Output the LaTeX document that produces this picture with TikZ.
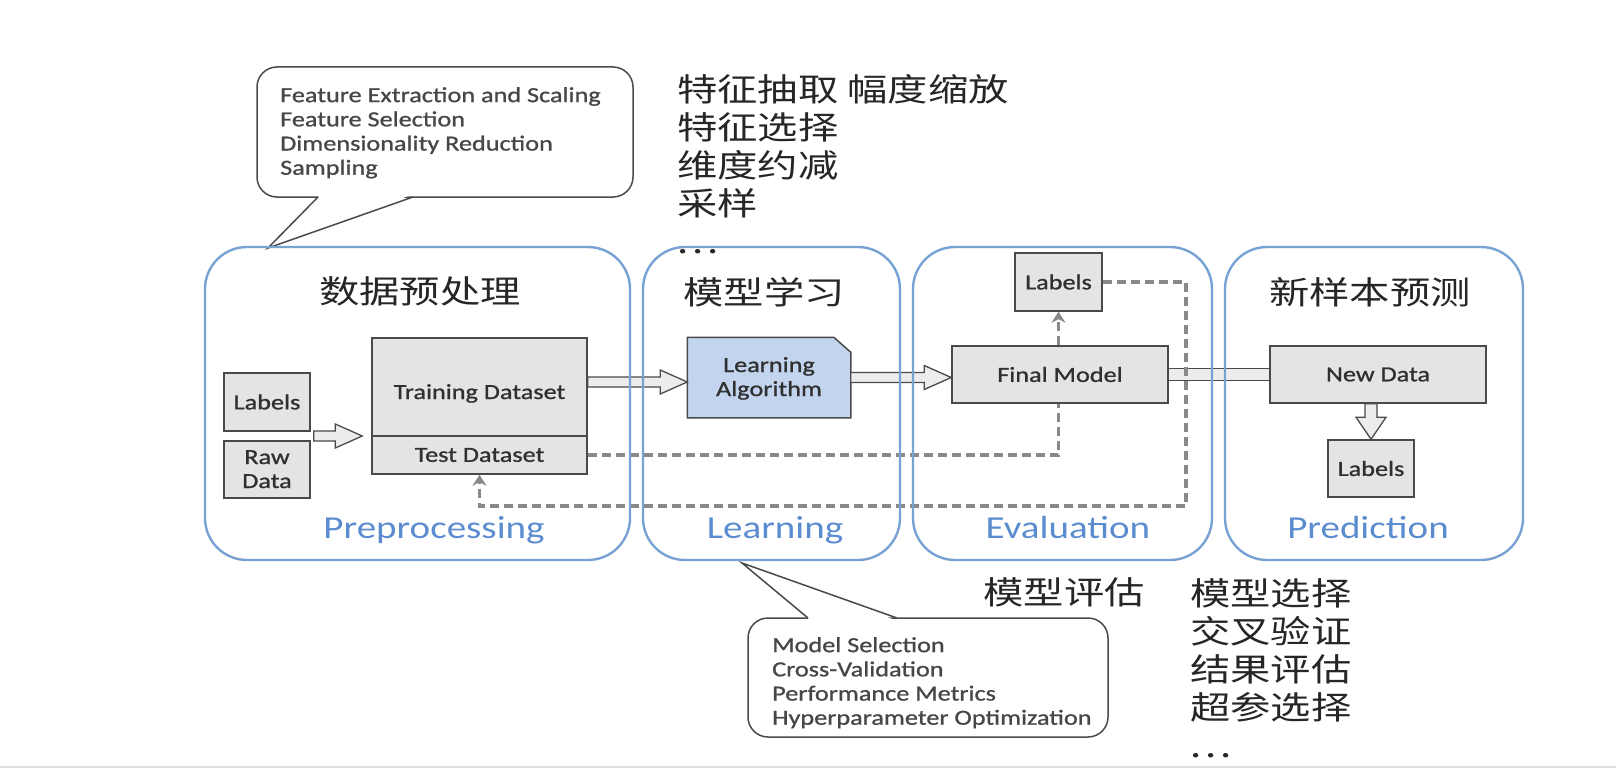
\documentclass[tikz,border=0pt]{standalone}
\usepackage{fontspec}
\setmainfont{Carlito}[FakeStretch=1.22]
\newfontfamily\boxf{Carlito}[FakeStretch=1.22, FakeBold=1.0]
\newfontfamily\cjkf{Noto Sans CJK SC}[FakeStretch=1.26]
\usetikzlibrary{calc,arrows.meta,backgrounds}
\definecolor{phaseblue}{HTML}{78A2D4}
\definecolor{labelblue}{HTML}{5B8CD0}
\definecolor{boxgray}{HTML}{E4E4E4}
\definecolor{edgegray}{HTML}{4A4A4A}
\definecolor{dashgray}{HTML}{898989}
\definecolor{algoblue}{HTML}{C3D5EE}
\definecolor{txtgray}{HTML}{303030}
\tikzset{
 gbox/.style={draw=edgegray, fill=boxgray, line width=1.5pt, inner sep=0pt, text=txtgray, font=\boxf\fontsize{21.5}{24}\selectfont, align=center},
 blk/.style={draw=edgegray, fill=boxgray!70!white, line width=1.3pt, line join=miter},
 dsh/.style={draw=dashgray, line width=3.1pt, dash pattern=on 9pt off 5pt},
 dtip/.style={-{Stealth[length=11pt,width=14pt,fill=dashgray]}},
 phase/.style={draw=phaseblue, line width=2.4pt, rounded corners=42pt, inner sep=0pt},
 ttl/.style={font=\cjkf\fontsize{32}{38}\selectfont, text=black!85, inner sep=0pt},
 plab/.style={font=\fontsize{32}{34}\selectfont, text=labelblue, inner sep=0pt},
 callout/.style={draw=edgegray, line width=1.5pt, fill=white, rounded corners=20pt},
 pointer/.style={draw=edgegray, line width=1.5pt, line join=miter},
 ctext/.style={font=\boxf\fontsize{21.5}{24.2}\selectfont, text=black!72, align=left, inner sep=0pt},
 cjklist/.style={font=\cjkf\fontsize{32}{38}\selectfont, text=black!85, align=left, inner sep=0pt}
}
\newcommand{\blkH}[2]{\draw[blk] let \p1=#1, \p2=#2 in (\x1,\y1+5pt) -- (\x2-27pt,\y1+5pt) -- (\x2-27pt,\y1+12pt) -- (\x2,\y1) -- (\x2-27pt,\y1-12pt) -- (\x2-27pt,\y1-5pt) -- (\x1,\y1-5pt) -- cycle;}
\newcommand{\blkV}[2]{\draw[blk] let \p1=#1, \p2=#2 in (\x1-6pt,\y1) -- (\x1-6pt,\y2+22pt) -- (\x1-15pt,\y2+22pt) -- (\x1,\y2) -- (\x1+15pt,\y2+22pt) -- (\x1+6pt,\y2+22pt) -- (\x1+6pt,\y1) -- cycle;}
\newcommand{\mydots}{.\kern4pt.\kern4pt.}
\begin{document}
\begin{tikzpicture}[x=1pt,y=-1pt]
\useasboundingbox (0,0) rectangle (1616,768);
\draw[black!12, line width=2pt] (0,767) -- (1616,767);

% callouts
\draw[callout] (257,67) rectangle (633,197);
\fill[white] (320,195) -- (411,195) -- (268,248) -- cycle;
\draw[pointer] (318,197) -- (268,248) -- (413,197);
\node[ctext, anchor=north west] (c1) at (280,87) {Feature Extraction and Scaling\\Feature Selection\\Dimensionality Reduction\\Sampling};

\draw[callout] (748,618) rectangle (1108,737);
\fill[white] (810,620) -- (895,620) -- (742,563) -- cycle;
\draw[pointer] (808,618) -- (742,563) -- (897,618);
\node[ctext, anchor=north west] (c2) at (772,637) {Model Selection\\Cross-Validation\\Performance Metrics\\Hyperparameter Optimization};

% chinese lists
\node[cjklist, anchor=north west] (zh1) at (677,74) {特征抽取 幅度缩放\\特征选择\\维度约减\\采样\\\mydots};
\node[cjklist] (zh2) at (1064,592) {模型评估};
\node[cjklist, anchor=north west] (zh3) at (1190,578) {模型选择\\交叉验证\\结果评估\\超参选择\\\mydots};

% boxes
\node[gbox, minimum width=86pt, minimum height=58pt] (labelsL) at (267,402) {Labels};
\node[gbox, minimum width=86pt, minimum height=57pt, text height=37pt, text depth=0pt] (raw) at (267,469.5) {Raw\\Data};
\node[gbox, minimum width=215pt, minimum height=98pt, text height=24pt, text depth=0pt] (train) at (479.5,387) {Training Dataset};
\node[gbox, minimum width=215pt, minimum height=38pt] (test) at (479.5,455) {Test Dataset};
\node[gbox, draw=none, fill=none, minimum width=162pt, minimum height=79pt, text height=37pt, text depth=0pt] (algo) at (769,377.5) {Learning\\Algorithm};
\begin{scope}[on background layer]
\draw[draw=edgegray, fill=algoblue, line width=1.5pt, line join=miter] (algo.south west) -- (algo.north west) -- ([xshift=-17pt]algo.north east) -- ([yshift=-15pt]algo.north east) -- (algo.south east) -- cycle;
\end{scope}
\node[gbox, minimum width=87pt, minimum height=58pt] (labelsE) at (1058.5,282) {Labels};
\node[gbox, minimum width=216pt, minimum height=57pt] (final) at (1060,374.5) {Final Model};
\node[gbox, minimum width=216pt, minimum height=57pt] (newdata) at (1378,374.5) {New Data};
\node[gbox, minimum width=86pt, minimum height=57pt] (labelsP) at (1371,468.5) {Labels};

% block arrows
\blkH{($(labelsL.south east)!0.5!(raw.north east)+(3,0)$)}{($(train.south west)+(-9,0)$)}
\blkH{([yshift=5pt]train.east)}{(algo.west)}
\blkH{(algo.east)}{(final.west)}
\draw[blk] let \p1=(final.east), \p2=(newdata.west) in (\x1,\y1+6pt) rectangle (\x2,\y1-6pt);
\blkV{(labelsP.north |- newdata.south)}{(labelsP.north)}

% dashed feedback
\draw[dsh] (test.east) -| (labelsE.south |- final.south);
\draw[dsh, dtip] (labelsE.south |- final.north) -- (labelsE.south);
\coordinate (dR) at (1186,506);
\draw[dsh, dtip] (labelsE.east) -| (dR) -| (test.south);

% phase boxes
\node[phase, minimum width=425pt, minimum height=313pt] (preBox) at (417.5,403.5) {};
\node[phase, minimum width=257pt, minimum height=313pt] (learnBox) at (771.5,403.5) {};
\node[phase, minimum width=299pt, minimum height=313pt] (evalBox) at (1062.5,403.5) {};
\node[phase, minimum width=298pt, minimum height=313pt] (predBox) at (1374,403.5) {};

\node[ttl] (t1) at (420,291) {数据预处理};
\node[ttl] (t2) at (764,292) {模型学习};
\node[ttl] (t4) at (1370,292) {新样本预测};

\node[plab, anchor=base] (l1) at (434,538) {Preprocessing};
\node[plab, anchor=base] (l2) at (775,538) {Learning};
\node[plab, anchor=base] (l3) at (1068,538) {Evaluation};
\node[plab, anchor=base] (l4) at (1368,538) {Prediction};
\end{tikzpicture}
\end{document}
